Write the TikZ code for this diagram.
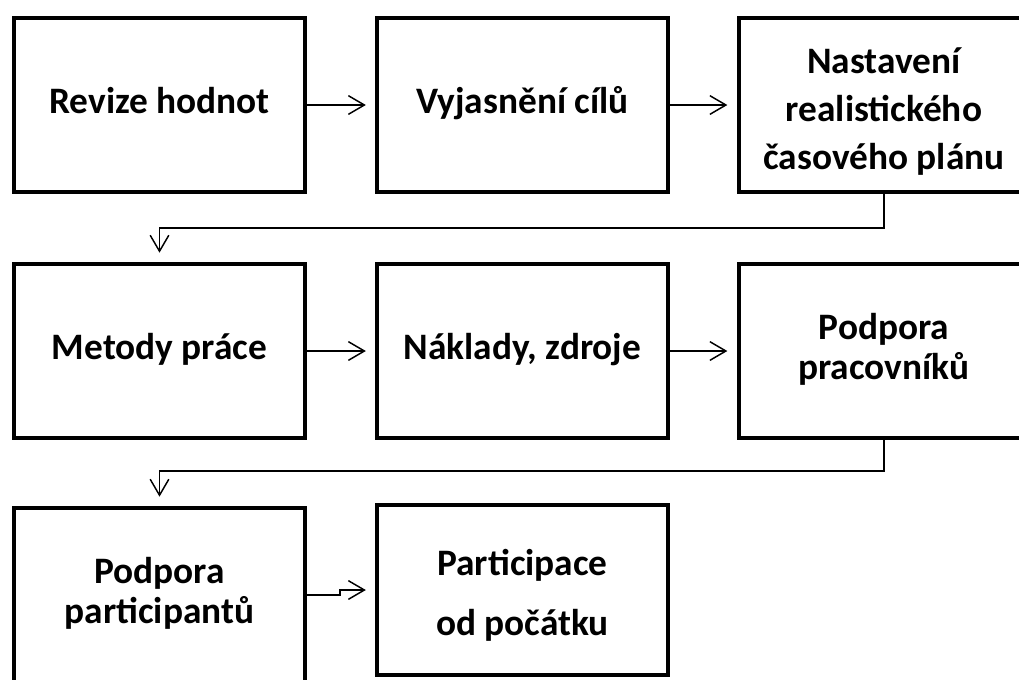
\documentclass[tikz,border=0pt]{standalone}
\usepackage{fontspec}
\setmainfont{Carlito}
\usepackage{tikz}
\usetikzlibrary{positioning, arrows.meta}

\tikzset{
    box/.style={draw, line width=3pt, minimum width=218pt, minimum height=130.5pt,
        align=center, text depth=7pt, font=\fontsize{28}{30}\selectfont\bfseries},
    conn/.style={line width=1.1pt, -{Straight Barb[length=12pt, width=14pt, line width=1.1pt]},
        shorten >=7pt}
}

\begin{document}
\begin{tikzpicture}[x=0.75pt, y=-0.75pt]
    \useasboundingbox (0,0) rectangle (1019,679);
    \clip (0,0) rectangle (1019,679);
    % Row 1
    \node[box] (revize) at (159.5,105) {Revize hodnot};
    \node[box] (cile) at (522.5,105) {Vyjasnění cílů};
    \node[box] (plan) at (884,105) {\rule{0pt}{31pt}Nastavení\\[6pt] realistického\\[6pt] časového plánu};
    % Row 2
    \node[box] (metody) at (159.5,351) {Metody práce};
    \node[box] (naklady) at (522.5,351) {Náklady, zdroje};
    \node[box] (pracovnici) at (884,351) {Podpora\\ pracovníků};
    % Row 3
    \node[box] (ucastnici) at (159.5,595) {Podpora\\ participantů};
    \node[box, minimum height=127.5pt] (pocatek) at (522.5,590) {\rule{0pt}{30pt}Participace\\[14.5pt] od počátku};
    % Arrows
    \draw[conn] (revize) -- (cile);
    \draw[conn] (cile) -- (plan);
    \draw[conn] (plan.south) -- ++(0,34) -| (metody.north);
    \draw[conn] (metody) -- (naklady);
    \draw[conn] (naklady) -- (pracovnici);
    \draw[conn] (pracovnici.south) -- ++(0,31) -| (ucastnici.north);
    \draw[conn] (ucastnici.east) -- ++(33,0) |- (pocatek.west);
\end{tikzpicture}
\end{document}
